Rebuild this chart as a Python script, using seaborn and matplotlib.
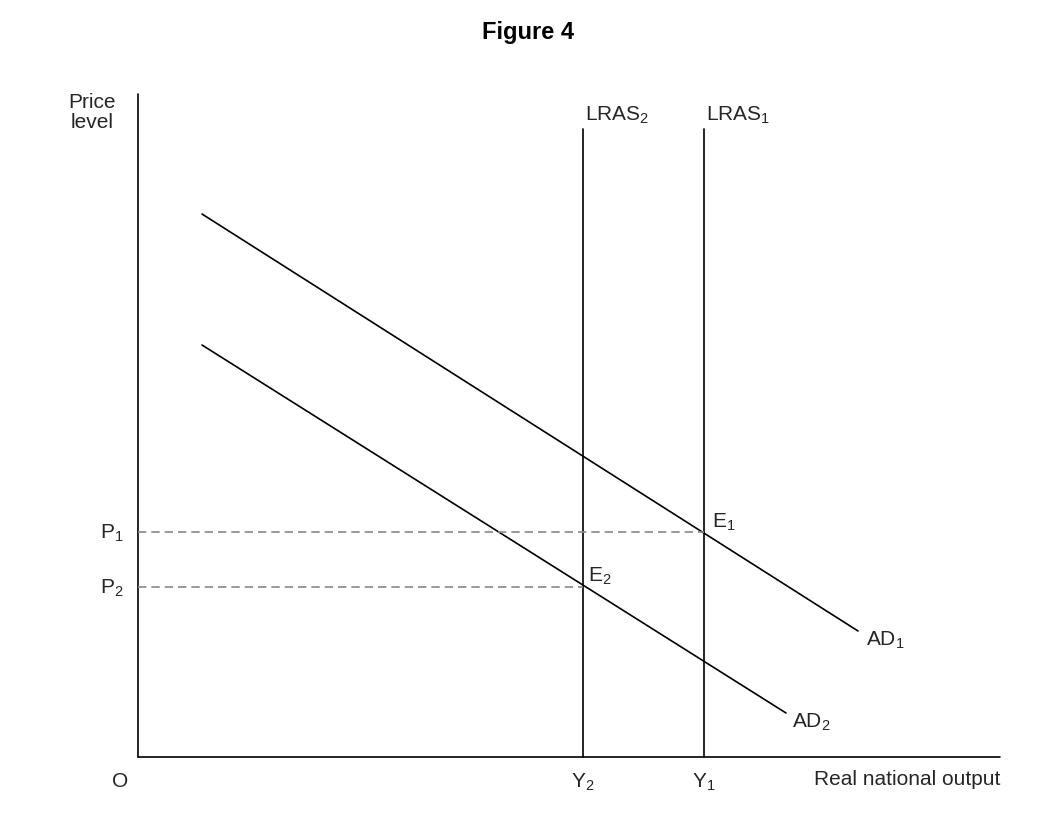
import matplotlib
matplotlib.use("Agg")
import matplotlib.pyplot as plt
import seaborn as sns
import pandas as pd

sns.set_theme(style="white")
plt.rcParams['font.family'] = ['Liberation Sans', 'DejaVu Sans']
plt.rcParams['mathtext.default'] = 'regular'

# diagram in pixel-like units (y grows downward)
origin = (138, 758)
ad1_x = [202, 858]
ad1_y = [215, 632]
ad2_x = [202, 786]
ad2_y = [346, 714]
lras_x = {"LRAS$_2$": 583, "LRAS$_1$": 704}
lras_top = 130
p_levels = {"P$_1$": (533, 704), "P$_2$": (588, 583)}

fig = plt.figure(figsize=(10.56, 8.20), dpi=100)
ax = fig.add_axes([0, 0, 1, 1])
ax.set_xlim(0, 1056)
ax.set_ylim(820, 0)
ax.axis("off")

# axes of the diagram
ax.plot([origin[0], origin[0]], [95, origin[1]], color="black", lw=1.2)
ax.plot([origin[0], 1000], [origin[1], origin[1]], color="black", lw=1.2)

ad = pd.DataFrame({"x": ad1_x + ad2_x, "y": ad1_y + ad2_y,
                   "curve": ["AD1"] * 2 + ["AD2"] * 2})
sns.lineplot(data=ad, x="x", y="y", units="curve", estimator=None,
             color="black", lw=1.2, ax=ax)

for lab, x in lras_x.items():
    ax.plot([x, x], [lras_top, origin[1]], color="black", lw=1.2)
    ax.text(x + 34, 115, lab, ha="center", va="center", fontsize=15)

for lab, (y, xe) in p_levels.items():
    ax.plot([origin[0], xe], [y, y], color="#888888", lw=1.2, ls=(0, (5, 3)))
    ax.text(112, y, lab, ha="center", va="center", fontsize=15)

ax.text(68, 93, "Price\nlevel", ha="left", va="top", fontsize=15,
        linespacing=1.1, multialignment="center")
ax.text(120, 782, "O", ha="center", va="center", fontsize=15)
ax.text(583, 782, "Y$_2$", ha="center", va="center", fontsize=15)
ax.text(704, 782, "Y$_1$", ha="center", va="center", fontsize=15)
ax.text(1000, 780, "Real national output", ha="right", va="center", fontsize=15)
ax.text(712, 522, "E$_1$", ha="left", va="center", fontsize=15)
ax.text(588, 576, "E$_2$", ha="left", va="center", fontsize=15)
ax.text(866, 640, "AD$_1$", ha="left", va="center", fontsize=15)
ax.text(792, 722, "AD$_2$", ha="left", va="center", fontsize=15)
ax.text(528, 32, "Figure 4", ha="center", va="center", fontsize=17,
        fontweight="bold", color="black")

fig.savefig("out.png", dpi=100)
